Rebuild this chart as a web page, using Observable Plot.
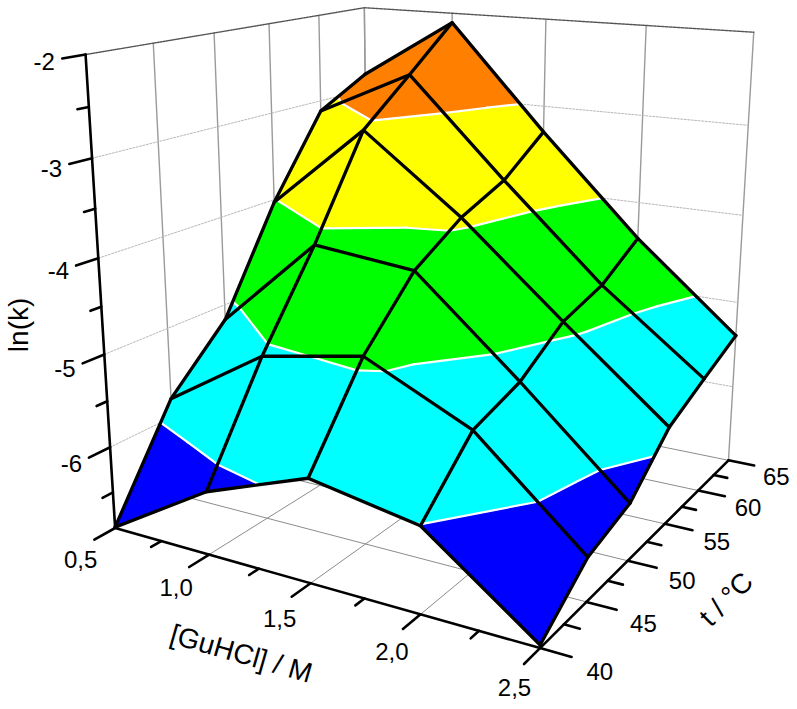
<!DOCTYPE html><html><head><meta charset="utf-8">
<script src="https://cdn.jsdelivr.net/npm/d3@7"></script>
<script src="https://cdn.jsdelivr.net/npm/@observablehq/plot@0.6"></script>
<style>html,body{margin:0;padding:0;background:#fff}svg{display:block}</style></head><body><div id="chart"></div><script>
// Data
const guhcl = [0.5, 1.0, 1.5, 2.0, 2.5];
const temps = [40, 45, 50, 55, 60, 65];
const lnK40 = [-6.89, -6.22, -5.81, -6.01, -6.87];
const lnK45 = [-5.79, -5.10, -4.89, -5.42, -6.44];
const lnK50 = [-5.17, -4.15, -4.26, -5.24, -6.28];
const lnK55 = [-4.03, -3.08, -3.91, -4.88, -5.82];
const lnK60 = [-3.12, -2.60, -3.69, -4.73, -5.60];
const lnK65 = [-2.81, -2.11, -3.30, -4.42, -5.39];
const lnK = [lnK40, lnK45, lnK50, lnK55, lnK60, lnK65];
const levels = [-6, -5, -4, -3];
const bandColors = ["#0000ff", "#00ffff", "#00ff00", "#ffff00", "#ff8000"];
const xTicks = [0.5, 1.0, 1.5, 2.0, 2.5];
const xMinor = [0.75, 1.25, 1.75, 2.25];
const tTicks = [40, 45, 50, 55, 60, 65];
const tMinor = [42.5, 47.5, 52.5, 57.5, 62.5];
const zTicks = [-2, -3, -4, -5, -6];
const zMinor = [-2.5, -3.5, -4.5, -5.5, -6.5];
const zMin = -6.9, zMax = -2;
// perspective camera of the 3-D box (unit cube -> picture)
const camera = [344.91399, 348.89165, -36.91895, 114.65170, 24.04402, -40.91843, -478.12904, 527.49886, -0.14827, 0.25880, -0.08625];

function project(x, t, z) {
  const u = (x - 0.5) / 2, v = (t - 40) / 25, w = (z - zMin) / (zMax - zMin), p = camera;
  const d = p[8]*u + p[9]*v + p[10]*w + 1;
  return [(p[0]*u + p[1]*v + p[2]*w + p[3]) / d, (p[4]*u + p[5]*v + p[6]*w + p[7]) / d];
}
let nextId = 0;
function path3d(points, extra = {}) {
  const id = nextId++;
  return points.map(([x, t, z]) => { const [px, py] = project(x, t, z); return {px, py, id, ...extra}; });
}
const X0 = guhcl[0], X1 = guhcl[4], T0 = temps[0], T1 = temps[5];
const seg = (rows, list) => { for (const l of list) rows.push(...path3d(l)); return rows; };

// grid
const floorGrid = seg([], [
  ...guhcl.map(x => [[x, T0, zMin], [x, T1, zMin]]),
  ...temps.map(t => [[X0, t, zMin], [X1, t, zMin]])
]);
const wallGrid = seg([], [
  ...temps.map(t => [[X0, t, zMin], [X0, t, zMax]]),
  ...guhcl.map(x => [[x, T1, zMin], [x, T1, zMax]])
]);
const wallDots = seg([], zTicks.slice(1).map(z => [[X0, T0, z], [X0, T1, z], [X1, T1, z]]));
const topDots = seg([], [[[X0, T0, zMax], [X0, T1, zMax], [X1, T1, zMax]]]);

// surface, back to front; each cell is split along the diagonal with the smaller height change
const polys = [], contours = [];
const bounds = [-Infinity, ...levels, Infinity];
function clip(poly, keep, level) {
  const out = [];
  poly.forEach((a, i) => {
    const b = poly[(i + 1) % poly.length], ka = keep(a[2]), kb = keep(b[2]);
    if (ka) out.push(a);
    if (ka !== kb) { const f = (level - a[2]) / (b[2] - a[2]); out.push([a[0] + f*(b[0]-a[0]), a[1] + f*(b[1]-a[1]), level]); }
  });
  return out;
}
for (let j = temps.length - 2; j >= 0; j--) for (let i = 0; i < guhcl.length - 1; i++) {
  const A = [guhcl[i], temps[j+1], lnK[j+1][i]], B = [guhcl[i+1], temps[j+1], lnK[j+1][i+1]];
  const C = [guhcl[i+1], temps[j], lnK[j][i+1]], D = [guhcl[i], temps[j], lnK[j][i]];
  const tris = Math.abs(D[2] - B[2]) <= Math.abs(A[2] - C[2]) ? [[D, A, B], [D, B, C]] : [[A, C, D], [A, B, C]];
  for (const tri of tris) {
    for (let b = 0; b < bounds.length - 1; b++) {
      const lo = bounds[b], hi = bounds[b+1];
      let poly = tri;
      if (lo > -Infinity && poly.length) poly = clip(poly, z => z >= lo, lo);
      if (hi < Infinity && poly.length) poly = clip(poly, z => z <= hi, hi);
      if (poly.length >= 3) polys.push(...path3d(poly, {v: b === 0 ? hi - 0.5 : lo + 0.5}));
    }
    for (const L of levels) {
      const pts = [];
      tri.forEach((a, k) => { const b = tri[(k+1)%3];
        if ((a[2] < L) !== (b[2] < L)) { const f = (L - a[2]) / (b[2] - a[2]); pts.push([a[0]+f*(b[0]-a[0]), a[1]+f*(b[1]-a[1]), L]); } });
      if (pts.length === 2) contours.push(...path3d(pts));
    }
  }
}
const mesh = seg([], [
  ...temps.map((t, j) => guhcl.map((x, i) => [x, t, lnK[j][i]])),
  ...guhcl.map((x, i) => temps.map((t, j) => [x, t, lnK[j][i]]))
]);

// axes
const axes = seg([], [
  [[X0, T0, zMax], [X0, T0, zMin], [X1, T0, zMin], [X1, T1, zMin]],
  ...xTicks.map(x => [[x, T0, zMin], [x, T0 - 1.6, zMin]]),
  ...xMinor.map(x => [[x, T0, zMin], [x, T0 - 0.8, zMin]]),
  ...tTicks.map(t => [[X1, t, zMin], [X1 + 0.125, t, zMin]]),
  ...tMinor.map(t => [[X1, t, zMin], [X1 + 0.065, t, zMin]]),
  ...zTicks.map(z => [[X0, T0, z], [X0, T0 - 1.6, z]]),
  ...zMinor.map(z => [[X0, T0, z], [X0, T0 - 0.8, z]])
]);
const label = (p, text) => { const [px, py] = project(...p); return {px, py, text}; };
const comma = v => v.toFixed(1).replace(".", ",");
const xLabels = xTicks.map(x => label([x, T0 - 3, zMin], comma(x)));
const tLabels = tTicks.map(t => label([X1 + 0.25, t, zMin], String(t)));
const zLabels = zTicks.map(z => label([X0, T0 - 2.1, z], String(z)));

const font = {fontFamily: "Liberation Sans, Arial, sans-serif", fill: "#000"};
const line = (rows, o) => Plot.line(rows, {x: "px", y: "py", z: "id", ...o});
const txt = (rows, o) => Plot.text(rows, {x: "px", y: "py", text: "text", ...font, ...o});

const plot = Plot.plot({
  width: 797, height: 709, margin: 0,
  style: {background: "#fff"},
  x: {domain: [0, 797], range: [0, 797], axis: null},
  y: {domain: [0, 709], range: [0, 709], axis: null},
  color: {type: "threshold", domain: levels, range: bandColors},
  marks: [
    line(floorGrid, {stroke: "#8c8c8c", strokeWidth: 1}),
    line(wallGrid, {stroke: "#9a9a9a", strokeWidth: 1.4}),
    line(wallDots, {stroke: "#b8b8b8", strokeWidth: 1, strokeDasharray: "2,1.5"}),
    line(topDots, {stroke: "#555", strokeWidth: 1.4, strokeDasharray: "1,1"}),
    line(polys, {fill: "v", stroke: "v", strokeWidth: 1.2, curve: "linear-closed"}),
    line(contours, {stroke: "#fff", strokeWidth: 2.2}),
    line(mesh, {stroke: "#000", strokeWidth: 3.3, strokeLinejoin: "round", strokeLinecap: "round"}),
    line(axes, {stroke: "#000", strokeWidth: 2.6, strokeLinejoin: "miter"}),
    txt(xLabels, {fontSize: 24, dx: 5, dy: 10}),
    txt(tLabels, {fontSize: 24, dx: -4, dy: 6}),
    txt(zLabels, {fontSize: 24, textAnchor: "end", dy: 3}),
    txt([label([X0, T0 - 2, -4.55], "ln(k)")], {fontSize: 28, rotate: -90, dx: -55, dy: 3}),
    txt([label([1.5, T0 - 5, zMin], "[GuHCl] / M")], {fontSize: 28, rotate: 16, dx: -8, dy: 27}),
    txt([label([X1 + 0.5, 47.5, zMin], "t / °C")], {fontSize: 28, rotate: -45, dx: -3, dy: -12})
  ]
});
document.getElementById("chart").append(plot);
</script></body></html>
